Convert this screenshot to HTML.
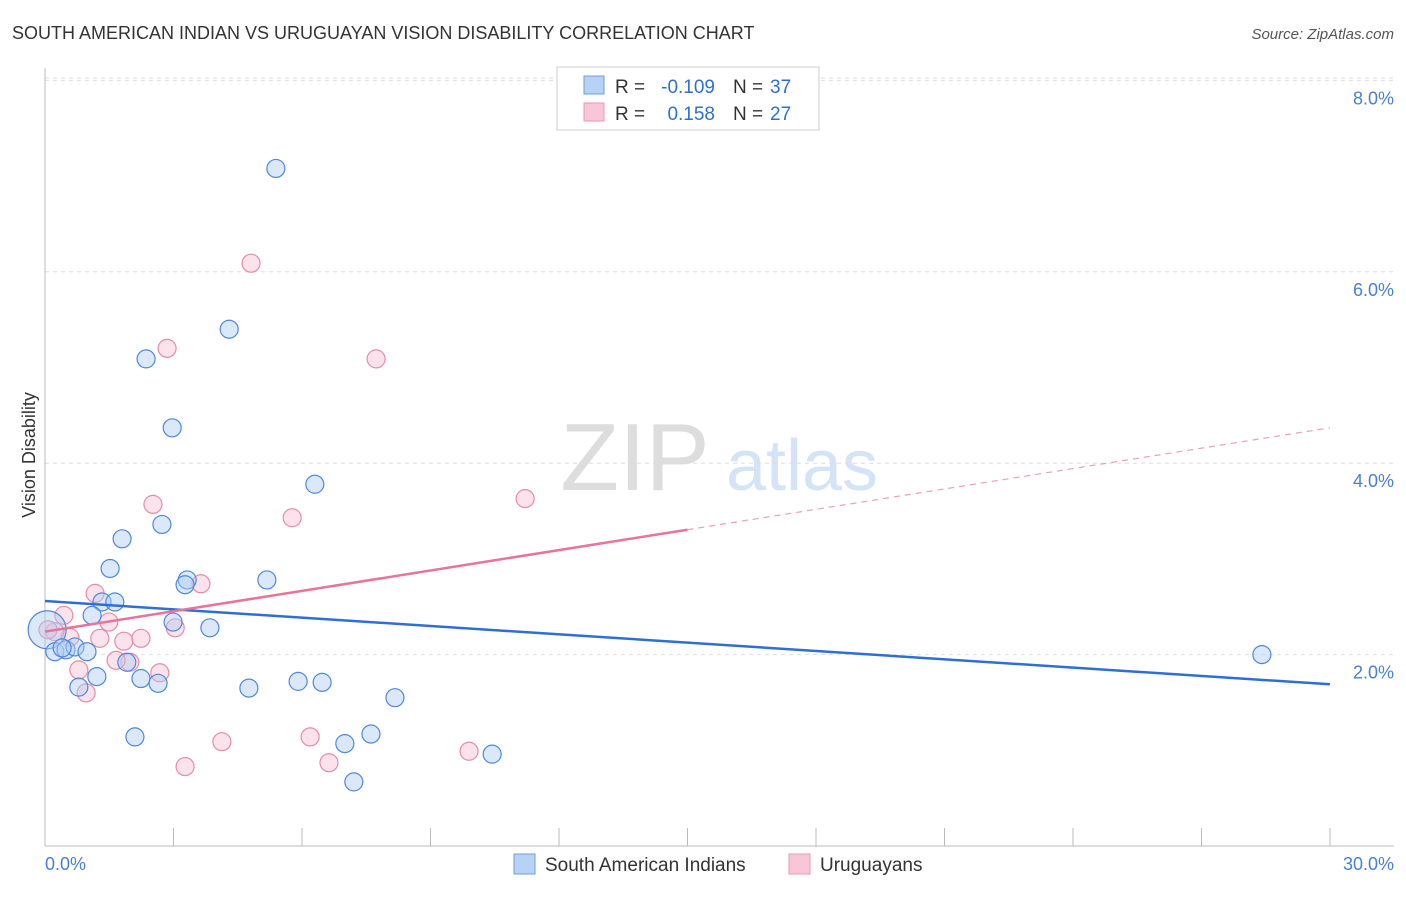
<!DOCTYPE html>
<html><head><meta charset="utf-8"><style>
body{margin:0;background:#fff;font-family:"Liberation Sans",sans-serif}
svg text{font-family:"Liberation Sans",sans-serif}
</style></head><body>
<svg width="1406" height="892">
<text x="12" y="39" font-size="18" fill="#333">SOUTH AMERICAN INDIAN VS URUGUAYAN VISION DISABILITY CORRELATION CHART</text>
<text x="1394" y="39" font-size="15" fill="#555" text-anchor="end" font-style="italic">Source: ZipAtlas.com</text>
<g>
<text x="635" y="490" font-size="96" fill="#ddd" text-anchor="middle" font-family="Liberation Serif,serif">ZIP</text>
<text x="802" y="490" font-size="72" fill="#d4e3f5" text-anchor="middle">atlas</text>
</g>
<g id="grid"></g>
<g id="axes"></g>
<g id="marks"></g>
<text x="35" y="455" font-size="18" fill="#333" text-anchor="middle" transform="rotate(-90 35 455)">Vision Disability</text>
<text x="45" y="870" font-size="18" fill="#4a7fd4">0.0%</text>
<text x="1394" y="870" font-size="18" fill="#4a7fd4" text-anchor="end">30.0%</text>
<g>
<rect x="557" y="67" width="262" height="63" fill="#fff" stroke="#ccc"/>
<rect x="584" y="76" width="20" height="18" fill="#b8d2f5" stroke="#6d9de0"/>
<rect x="584" y="103" width="20" height="18" fill="#f8c6d6" stroke="#e999b3"/>
<text x="615" y="93" font-size="19" fill="#333">R =</text>
<text x="715" y="93" font-size="19" fill="#2e6fd6" text-anchor="end">-0.109</text>
<text x="733" y="93" font-size="19" fill="#333">N =</text>
<text x="770" y="93" font-size="19" fill="#2e6fd6">37</text>
<text x="615" y="120" font-size="19" fill="#333">R =</text>
<text x="715" y="120" font-size="19" fill="#2e6fd6" text-anchor="end">0.158</text>
<text x="733" y="120" font-size="19" fill="#333">N =</text>
<text x="770" y="120" font-size="19" fill="#2e6fd6">27</text>
</g>
<g>
<rect x="514" y="854" width="21" height="20" fill="#b8d2f5" stroke="#6d9de0"/>
<text x="545" y="871" font-size="19" fill="#333">South American Indians</text>
<rect x="789" y="854" width="21" height="20" fill="#f8c6d6" stroke="#e999b3"/>
<text x="820" y="871" font-size="19" fill="#333">Uruguayans</text>
</g>
</svg>
<script>
const blueX=[5.39,4.30,2.36,2.97,6.30,2.73,1.80,1.52,3.32,3.27,5.18,1.33,1.63,1.10,2.99,3.85,0.05,0.23,0.49,0.70,0.98,0.40,1.91,1.21,2.24,2.64,0.79,4.76,5.91,6.47,8.17,2.10,7.00,7.61,10.44,7.21,28.41];
const blueY=[7.08,5.40,5.09,4.37,3.78,3.36,3.21,2.90,2.78,2.73,2.78,2.55,2.55,2.41,2.34,2.28,2.26,2.03,2.05,2.08,2.03,2.07,1.92,1.77,1.75,1.70,1.66,1.65,1.72,1.71,1.55,1.14,1.07,1.17,0.96,0.67,2.00];
const pinkX=[4.81,2.85,7.73,11.21,2.52,5.77,1.17,3.64,0.44,1.49,3.04,1.28,0.58,1.84,2.24,0.23,1.98,1.66,0.79,2.68,0.96,4.13,3.27,6.19,6.63,9.90,0.07];
const pinkY=[6.09,5.20,5.09,3.63,3.57,3.43,2.64,2.74,2.41,2.34,2.28,2.17,2.18,2.14,2.17,2.24,1.92,1.94,1.84,1.81,1.60,1.09,0.83,1.14,0.87,0.99,2.26];
const blueTrend=[2.56,1.69];
const pinkTrend=[2.24,4.37];
const pinkSolidEnd=15.0;
const yTicks=[2,4,6,8];
const xTickCount=10;
const NS='http://www.w3.org/2000/svg';
const sx=v=>45+v*(1285/30);
const sy=v=>846-v*95.7;
function mk(tag,attrs,parent){const e=document.createElementNS(NS,tag);for(const k in attrs)e.setAttribute(k,attrs[k]);document.getElementById(parent).appendChild(e);return e;}
mk('line',{x1:45,x2:1394,y1:78,y2:78,stroke:'#ddd','stroke-dasharray':'4,4'},'grid');
yTicks.forEach(t=>{
 const l=mk('line',{x1:45,x2:1394,y1:sy(t),y2:sy(t),stroke:'#ddd','stroke-dasharray':'4,4'},'grid');
 
 
 const tx=mk('text',{x:1394,y:sy(t)+24,'font-size':18,fill:'#4a7fd4','text-anchor':'end'},'grid');
 tx.textContent=t.toFixed(1)+'%';
 
 
});
mk('line',{x1:45,x2:45,y1:68,y2:846,stroke:'#bbb'},'axes');
mk('line',{x1:45,x2:1394,y1:846,y2:846,stroke:'#bbb'},'axes');
for(let i=0;i<=xTickCount;i++){const x=sx(i*3);const t=mk('line',{x1:x,x2:x,y1:828,y2:846,stroke:'#bbb'},'axes');
 
 }
function dots(X,Y,fill,stroke,name){X.forEach((x,i)=>{const r=(name==='blue-point'&&i===16)?19:9;
 const c=mk('circle',{cx:sx(x),cy:sy(Y[i]),r:r,fill:fill,'fill-opacity':0.45,stroke:stroke,'stroke-width':1.2},'marks');
 
 });}
dots(pinkX,pinkY,'#f8c0d2','#e88aab','pink-point');
dots(blueX,blueY,'#aecbf2','#4f88dc','blue-point');
const bl=mk('line',{x1:sx(0),y1:sy(blueTrend[0]),x2:sx(30),y2:sy(blueTrend[1]),stroke:'#2e6fd6','stroke-width':2.5},'marks');


const pAt=x=>pinkTrend[0]+(pinkTrend[1]-pinkTrend[0])*x/30;
const pl=mk('line',{x1:sx(0),y1:sy(pinkTrend[0]),x2:sx(pinkSolidEnd),y2:sy(pAt(pinkSolidEnd)),stroke:'#e8739b','stroke-width':2.5},'marks');


const pd=mk('line',{x1:sx(pinkSolidEnd),y1:sy(pAt(pinkSolidEnd)),x2:sx(30),y2:sy(pinkTrend[1]),stroke:'#e8a0b8','stroke-width':1.2,'stroke-dasharray':'6,5'},'marks');


</script>
</body></html>
